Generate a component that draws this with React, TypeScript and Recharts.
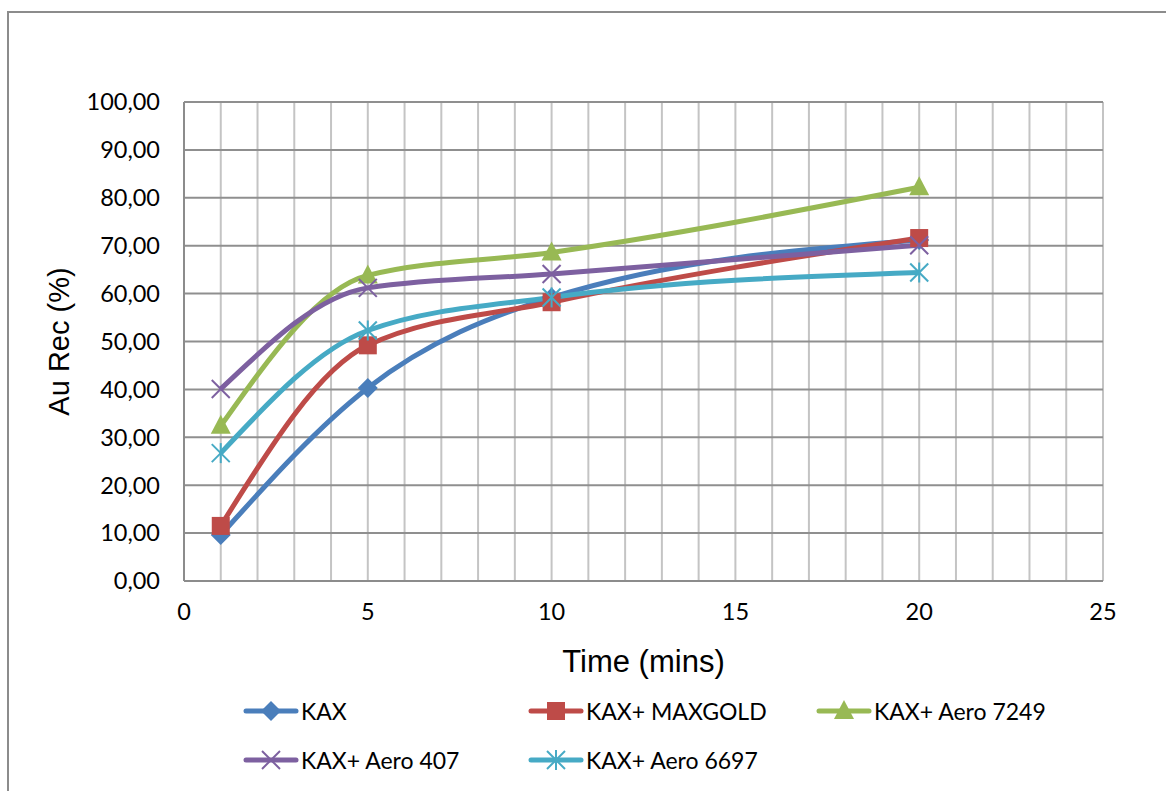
import { LineChart, Line, XAxis, YAxis, CartesianGrid } from "recharts"

const times = [1, 5, 10, 20]
const kax = [9.6, 40.3, 59.2, 71.2]
const kaxMaxgold = [11.5, 49.2, 58.2, 71.6]
const kaxAero7249 = [32.4, 63.8, 68.6, 82.2]
const kaxAero407 = [40.1, 61.2, 64.1, 70.1]
const kaxAero6697 = [26.7, 52.3, 59.2, 64.4]

const xTicks = [0, 1, 2, 3, 4, 5, 6, 7, 8, 9, 10, 11, 12, 13, 14, 15, 16, 17, 18, 19, 20, 21, 22, 23, 24, 25]
const yTicks = [0, 10, 20, 30, 40, 50, 60, 70, 80, 90, 100]

const data = times.map((t, i) => ({
  t,
  kax: kax[i],
  maxgold: kaxMaxgold[i],
  a7249: kaxAero7249[i],
  a407: kaxAero407[i],
  a6697: kaxAero6697[i],
}))

type Shape = "diamond" | "square" | "triangle" | "x" | "star"

const series: { key: string; name: string; color: string; shape: Shape }[] = [
  { key: "kax",     name: "KAX",            color: "#4a7ebb", shape: "diamond" },
  { key: "maxgold", name: "KAX+ MAXGOLD",   color: "#be4b48", shape: "square" },
  { key: "a7249",   name: "KAX+ Aero 7249", color: "#98b954", shape: "triangle" },
  { key: "a407",    name: "KAX+ Aero 407",  color: "#7d60a0", shape: "x" },
  { key: "a6697",   name: "KAX+ Aero 6697", color: "#46aac5", shape: "star" },
]

function Marker({ cx, cy, color, shape }: { cx: number; cy: number; color: string; shape: Shape }) {
  if (shape === "diamond") {
    const r = 10
    return <path d={`M${cx},${cy - r}L${cx + r},${cy}L${cx},${cy + r}L${cx - r},${cy}Z`} fill={color} />
  }
  if (shape === "square") {
    return <rect x={cx - 9} y={cy - 9} width={18} height={18} fill={color} />
  }
  if (shape === "triangle") {
    return <path d={`M${cx},${cy - 11}L${cx + 10},${cy + 8}L${cx - 10},${cy + 8}Z`} fill={color} />
  }
  if (shape === "x") {
    const r = 9
    return (
      <g stroke={color} strokeWidth={2}>
        <line x1={cx - r} y1={cy - r} x2={cx + r} y2={cy + r} />
        <line x1={cx - r} y1={cy + r} x2={cx + r} y2={cy - r} />
      </g>
    )
  }
  const r = 9
  return (
    <g stroke={color} strokeWidth={2}>
      <line x1={cx - r} y1={cy - r} x2={cx + r} y2={cy + r} />
      <line x1={cx - r} y1={cy + r} x2={cx + r} y2={cy - r} />
      <line x1={cx} y1={cy - r - 1} x2={cx} y2={cy + r + 1} />
    </g>
  )
}

const fmtY = (v: number) => v.toFixed(2).replace(".", ",")
const fmtX = (v: number) => (v % 5 === 0 ? String(v) : "")

const tickStyle = { fontSize: 23.5, fill: "#000", fontFamily: "Lato" }

export default function App() {
  return (
    <div style={{ position: "absolute", left: 0, top: 0, width: 1166, height: 791, overflow: "hidden", background: "#fff" }}>
      <div style={{ position: "absolute", left: 7, top: 11, width: 1200, height: 820, borderLeft: "2px solid #8c8c8c", borderTop: "2px solid #8c8c8c" }} />
      <LineChart width={1166} height={791} data={data} margin={{ top: 102, right: 63, bottom: 120, left: 40 }}>
        <CartesianGrid horizontal={false} stroke="#c4c4c4" strokeWidth={2} />
        <CartesianGrid vertical={false} stroke="#8f8f8f" strokeWidth={2} />
        <XAxis
          dataKey="t"
          type="number"
          domain={[0, 25]}
          ticks={xTicks}
          tickFormatter={fmtX}
          interval={0}
          tick={tickStyle}
          tickLine={false}
          tickMargin={16}
          stroke="#8c8c8c"
          strokeWidth={2}
          height={90}
          label={{ value: "Time (mins)", position: "insideBottom", offset: -1, style: { fontSize: 31, fill: "#000", fontFamily: "Liberation Sans" } }}
        />
        <YAxis
          type="number"
          domain={[0, 100]}
          ticks={yTicks}
          tickFormatter={fmtY}
          interval={0}
          tick={tickStyle}
          tickLine={false}
          tickMargin={18}
          stroke="#8c8c8c"
          strokeWidth={2}
          width={144}
          label={{ value: "Au Rec (%)", angle: -90, position: "insideLeft", offset: 19, style: { textAnchor: "middle", fontSize: 29, fill: "#000", fontFamily: "Liberation Sans" } }}
        />
        {series.map((s) => (
          <Line
            key={s.key}
            type="monotone"
            dataKey={s.key}
            name={s.name}
            stroke={s.color}
            strokeWidth={5}
            isAnimationActive={false}
            dot={(p: any) => <Marker key={`${s.key}-${p.index}`} cx={p.cx} cy={p.cy} color={s.color} shape={s.shape} />}
            activeDot={false}
          />
        ))}
      </LineChart>
      <div style={{ position: "absolute", left: 243, top: 692, width: 860, display: "grid", gridTemplateColumns: "285px 288px 280px", rowGap: 11, fontFamily: "Lato", fontSize: 23, color: "#000" }}>
        {series.map((s) => (
          <div key={s.key} style={{ display: "flex", alignItems: "center", height: 38 }}>
            <svg width={56} height={24} style={{ marginRight: 2 }}>
              <line x1={3} y1={12} x2={53} y2={12} stroke={s.color} strokeWidth={5} strokeLinecap="round" />
              <Marker cx={28} cy={12} color={s.color} shape={s.shape} />
            </svg>
            <span>{s.name}</span>
          </div>
        ))}
      </div>
    </div>
  )
}
